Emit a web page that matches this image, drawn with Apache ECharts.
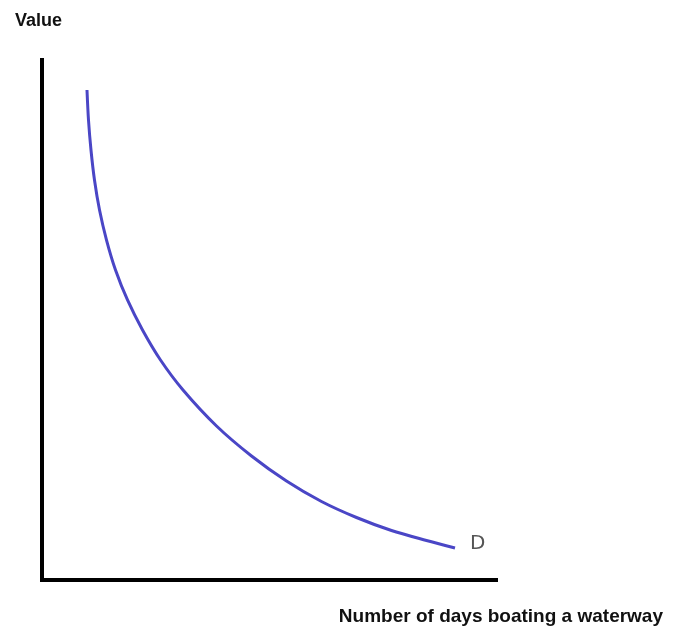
<!DOCTYPE html>
<html>
<head>
<meta charset="utf-8">
<script src="https://cdn.jsdelivr.net/npm/echarts@6/dist/echarts.min.js"></script>
<style>
html,body{margin:0;padding:0;background:#fff;}
#chart{width:676px;height:628px;}
</style>
</head>
<body>
<div id="chart"></div>
<script>
// Demand curve (arbitrary units, 0-100)
const days  = [9.91, 10.24, 10.79, 11.56, 12.67, 14.21, 16.19, 18.83, 22.14, 26.10, 31.06, 38.44, 46.15, 53.85, 61.56, 69.27, 76.98, 84.69, 90.97];
const value = [94.23, 88.46, 82.69, 76.92, 71.15, 65.38, 59.62, 53.85, 48.08, 42.31, 36.54, 29.62, 23.85, 19.04, 15.10, 12.02, 9.52, 7.60, 6.15];
const curveName = 'D';
const yTitle = 'Value';
const xTitle = 'Number of days boating a waterway';

const chart = echarts.init(document.getElementById('chart'));
const axisCommon = {
  type: 'value', min: 0, max: 100,
  axisLine: { show: true, onZero: false, lineStyle: { color: '#000', width: 4, cap: 'square' } },
  axisTick: { show: false }, axisLabel: { show: false }, splitLine: { show: false }
};
chart.setOption({
  animation: false,
  backgroundColor: '#fff',
  grid: { left: 42, right: 180, top: 60, bottom: 48 },
  xAxis: axisCommon,
  yAxis: axisCommon,
  graphic: [
    { type: 'text', left: 15, top: 12, style: { text: yTitle, font: 'bold 18px "Liberation Sans", Arial, sans-serif', fill: '#111' } },
    { type: 'text', right: 13, top: 607, style: { text: xTitle, font: 'bold 19px "Liberation Sans", Arial, sans-serif', fill: '#111' } }
  ],
  series: [{
    type: 'line',
    name: curveName,
    data: days.map((d, i) => [d, value[i]]),
    smooth: 0.3,
    showSymbol: false,
    lineStyle: { color: '#4a46c6', width: 3 },
    endLabel: { show: true, formatter: curveName, distance: 15, offset: [0, -4],
      color: '#555', fontSize: 20, fontFamily: '"DejaVu Sans", sans-serif' }
  }]
});
</script>
</body>
</html>
